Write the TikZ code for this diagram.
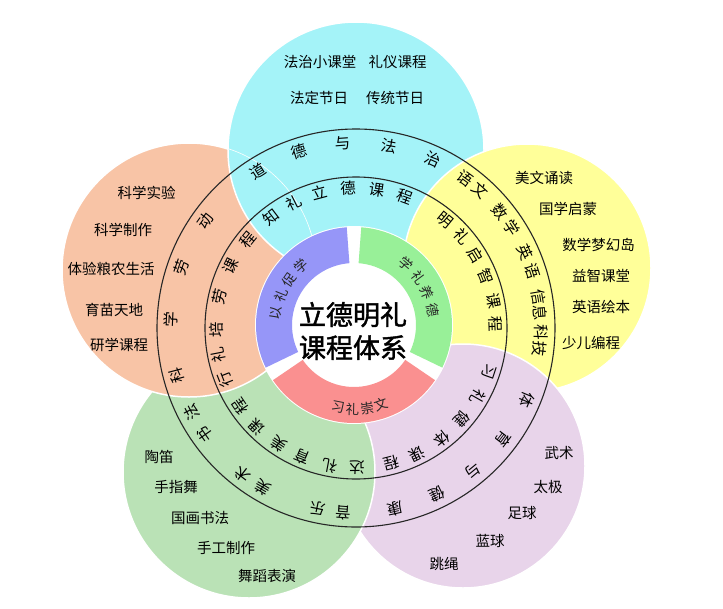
\documentclass[tikz,border=0pt]{standalone}
\usepackage{fontspec}
\newfontfamily\cjk{Noto Sans CJK SC}
\newfontfamily\cjkb[FakeBold=1.6]{Noto Sans CJK SC}
\definecolor{cyanp}{RGB}{164,243,248}
\definecolor{yellowp}{RGB}{255,255,153}
\definecolor{purplep}{RGB}{232,212,234}
\definecolor{greenp}{RGB}{186,226,182}
\definecolor{salmonp}{RGB}{248,196,166}
\definecolor{secblue}{RGB}{150,150,248}
\definecolor{secgreen}{RGB}{152,240,152}
\definecolor{secred}{RGB}{250,144,144}
\begin{document}
\begin{tikzpicture}[x=1pt,y=1pt,
  petal/.style={draw=white,line width=1.5pt},
  item/.style={font=\cjk\fontsize{14.5}{16}\selectfont,inner sep=0pt},
  ringchar/.style={font=\cjk\fontsize{15.5}{18}\selectfont,inner sep=0pt},
  secchar/.style={font=\cjk\fontsize{13.5}{15}\selectfont,inner sep=0pt,text=black!85},
  ringline/.style={draw=black!85,line width=1.1pt}]
\useasboundingbox (0,0) rectangle (723,-608);
\coordinate (C) at (356,-328);
\coordinate (S) at (354,-325);
\coordinate (pc) at (356,-150);
\coordinate (py) at (527,-268);
\coordinate (pp) at (463,-466);
\coordinate (pg) at (249,-472);
\coordinate (ps) at (189,-270);
% petals
\path[fill=cyanp,petal] (pc) circle[radius=128pt];
\path[fill=yellowp,petal] (py) circle[radius=124pt];
\path[fill=purplep,petal] (pp) circle[radius=122pt];
\path[fill=greenp,petal] (pg) circle[radius=126pt];
\path[fill=salmonp,petal] (ps) circle[radius=127pt];
\begin{scope}
  \clip (ps) circle[radius=127pt];
  \path[fill=cyanp,petal] (pc) circle[radius=128pt];
\end{scope}
% central sectors
\fill[white] (S) circle[radius=99pt];
\fill[secgreen] ([shift={(S)}]-25.75:98pt) arc[start angle=-25.75,end angle=85.75,radius=98pt]
  -- ([shift={(S)}]85.75:62pt) arc[start angle=85.75,end angle=-25.75,radius=62pt] -- cycle;
\fill[secblue] ([shift={(S)}]94.25:98pt) arc[start angle=94.25,end angle=205.75,radius=98pt]
  -- ([shift={(S)}]205.75:62pt) arc[start angle=205.75,end angle=94.25,radius=62pt] -- cycle;
\fill[secred] ([shift={(S)}]214.25:98pt) arc[start angle=214.25,end angle=325.75,radius=98pt]
  -- ([shift={(S)}]325.75:62pt) arc[start angle=325.75,end angle=214.25,radius=62pt] -- cycle;
% rings
\draw[ringline] (C) circle[radius=199pt];
\draw[ringline] (C) circle[radius=151pt];
% center text
\node[font=\cjkb\fontsize{27}{33}\selectfont,align=center,inner sep=0pt] (title) at (353,-331) {立德明礼\\课程体系};
% sector labels
\foreach \a/\c [count=\i] in {171/以,158/礼,145/促,132/学}
  \node[secchar,rotate=\a-90] (sb\i) at ([shift={(S)}]\a:79pt) {\c};
\foreach \a/\c [count=\i] in {49.5/学,36.5/礼,23.5/养,10.5/德}
  \node[secchar,rotate=\a-90] (sg\i) at ([shift={(S)}]\a:80pt) {\c};
\foreach \a/\c [count=\i] in {259/习,269/礼,279/崇,289/文}
  \node[secchar,rotate=\a+90] (sr\i) at ([shift={(S)}]\a:84pt) {\c};
% outer band labels
\foreach \a/\c [count=\i] in {122.1/道,107.8/德,94/与,79.8/法,65.5/治,
   53.8/语,47.9/文,38.9/数,32.9/学,24.2/英,17.8/语,9.7/信,4.7/息,-1.2/科,-6.4/技,
   -22.8/体,-37.1/育,-50.6/与,-64/健,-77.9/康,
   266/音,258.1/乐,239.7/美,232.4/术,215.2/书,207.1/法,
   194.9/科,177.5/学,160.9/劳,144.6/动}
  \node[ringchar,rotate=\a-90] (o\i) at ([shift={(C)}]\a:185pt) {\c};
% inner band labels
\foreach \a/\c [count=\i] in {127.3/知,116.2/礼,105/立,93.3/德,81.4/课,69.8/程,
   50.7/明,40.9/礼,31.3/启,21.5/智,11.3/课,1.8/程,
   -18.2/习,-29.6/礼,-40.6/健,-52.2/体,-64/课,-75.5/程,
   270.4/达,259.3/礼,247.4/育,236.4/美,225.1/课,214.1/程,
   201.4/行,191/礼,180.8/培,167.2/劳,153.8/课,140.8/程}
  \node[ringchar,rotate=\a-90] (n\i) at ([shift={(C)}]\a:140pt) {\c};
% petal items
\node[item] (c1) at (320,-62) {法治小课堂};
\node[item] (c2) at (397.5,-62) {礼仪课程};
\node[item] (c3) at (319,-98) {法定节日};
\node[item] (c4) at (395,-98) {传统节日};
\node[item] (y1) at (544,-178) {美文诵读};
\node[item] (y2) at (568,-209) {国学启蒙};
\node[item] (y3) at (598.5,-245) {数学梦幻岛};
\node[item] (y4) at (601,-276) {益智课堂};
\node[item] (y5) at (601,-307) {英语绘本};
\node[item] (y6) at (591,-343) {少儿编程};
\node[item] (s1) at (146.5,-193) {科学实验};
\node[item] (s2) at (123,-230) {科学制作};
\node[item] (s3) at (111,-269) {体验粮农生活};
\node[item] (s4) at (114,-310) {育苗天地};
\node[item] (s5) at (119,-345) {研学课程};
\node[item] (g1) at (159,-457) {陶笛};
\node[item] (g2) at (176,-487) {手指舞};
\node[item] (g3) at (200,-518) {国画书法};
\node[item] (g4) at (226,-548) {手工制作};
\node[item] (g5) at (267,-576) {舞蹈表演};
\node[item] (p1) at (559,-453) {武术};
\node[item] (p2) at (548,-487) {太极};
\node[item] (p3) at (522,-513) {足球};
\node[item] (p4) at (490,-541) {蓝球};
\node[item] (p5) at (444,-564) {跳绳};
\end{tikzpicture}
\end{document}
